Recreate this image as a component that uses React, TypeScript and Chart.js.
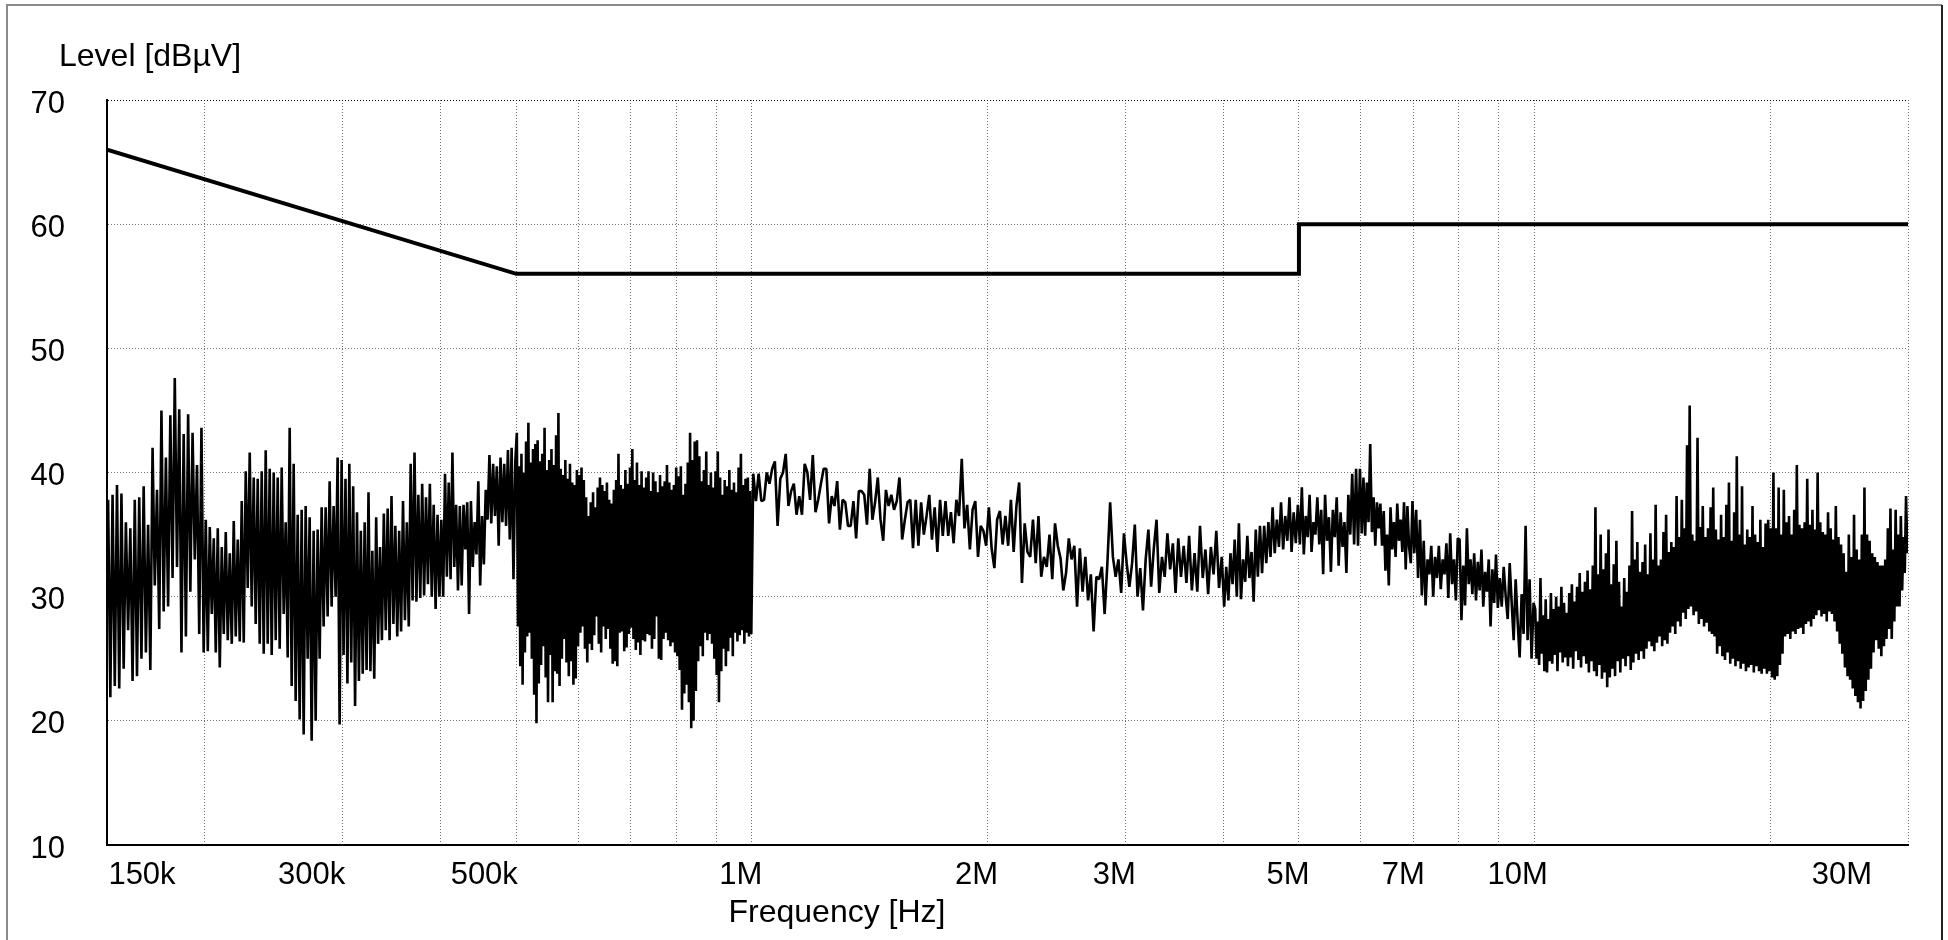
import React, { useEffect, useRef } from 'react';
import { Chart, registerables } from 'chart.js';

Chart.register(...registerables);

const FONT = '"Liberation Sans", Arial, Helvetica, sans-serif';

// ---- axis definitions ----
const X_MIN = 150e3;
const X_MAX = 30e6;
const X_GRID = [
  150e3, 200e3, 300e3, 400e3, 500e3, 600e3, 700e3, 800e3, 900e3,
  1e6, 2e6, 3e6, 4e6, 5e6, 6e6, 7e6, 8e6, 9e6, 10e6, 20e6, 30e6,
];
const X_TICK_VALUES = [150e3, 300e3, 500e3, 1e6, 2e6, 3e6, 5e6, 7e6, 10e6, 30e6];
const X_TICK_LABELS = ['150k', '300k', '500k', '1M', '2M', '3M', '5M', '7M', '10M', '30M'];
const X_LABEL_SHIFT = [35, -31, -32, -11, -11, -11, -11, -10, -17, -66];
const Y_TICKS = [10, 20, 30, 40, 50, 60, 70];

// ---- limit line ----
const LIMIT_FREQ = [150e3, 500e3, 5e6, 5e6, 30e6];
const LIMIT_LEVEL = [66, 56, 56, 60, 60];

// ---- measured level [dBµV], read per frequency band ----
const LEVEL_150K_200K = [
  37.8, 21.9, 38.2, 22.8, 39.0, 22.6, 38.3, 24.2, 36.0, 27.3, 35.5, 23.2, 37.8, 23.6, 38.0, 25.0,
  38.9, 25.5, 35.8, 24.1, 42.0, 30.9, 38.6, 27.4, 45.0, 28.8, 41.2, 29.2, 44.6, 31.5, 47.6, 32.4,
  45.1, 25.5, 43.1, 26.8, 44.7, 30.4, 43.2, 33.0, 40.6, 27.0, 43.6, 25.5,
];
const LEVEL_200K_300K = [
  36.2, 25.6, 35.6, 28.6, 34.7, 25.5, 35.5, 24.3, 34.0, 27.0, 35.2, 26.5, 33.5, 26.2, 36.1, 26.8,
  34.6, 26.4, 37.7, 26.3, 40.1, 30.7, 41.6, 29.2, 39.6, 27.8, 39.5, 26.2, 40.1, 25.4, 41.8, 26.2,
  40.3, 25.3, 40.0, 26.5, 39.6, 25.8, 40.4, 28.6, 36.0, 25.1, 43.6, 22.8, 40.7, 21.6, 36.6, 20.1,
  37.0, 18.9, 37.3, 25.0, 36.4, 18.4, 35.3, 20.0, 35.4, 25.0, 37.2, 27.6, 37.2, 28.4, 39.3, 29.2,
  37.3, 30.0, 41.2, 19.7, 41.0,
];
const LEVEL_300K_400K = [
  25.3, 39.5, 23.0, 40.7, 24.7, 38.9, 21.2, 36.8, 23.2, 35.3, 23.8, 36.0, 24.1, 38.4, 24.0, 33.7,
  23.4, 36.4, 26.2, 34.0, 26.5, 36.7, 27.3, 37.1, 26.5, 38.1, 27.8, 35.7, 26.8, 35.3, 27.2, 37.7,
  28.1, 36.0, 27.6, 40.7, 29.7, 41.6, 29.6, 38.2, 29.9, 39.1, 30.1, 38.0, 31.0, 39.1, 30.0, 37.4,
  29.0, 36.6, 30.0,
];
const LEVEL_400K_500K = [
  36.2, 30.0, 39.9, 31.6, 39.2, 31.4, 41.6, 32.4, 37.4, 30.5, 37.3, 30.9, 37.4, 33.8, 37.6, 28.6,
  37.7, 32.4, 36.0, 33.4, 39.3, 30.9, 36.5, 32.6, 38.6, 36.2, 41.4, 35.9, 40.7, 36.5, 40.5, 34.1,
  41.2, 36.0, 40.7, 35.7, 41.8, 34.6, 42.0, 31.4, 40.9,
];
const LEVEL_500K_1M = [
  43.2, 27.6, 40.5, 24.4, 41.5, 22.9, 40.0, 25.5, 42.5, 26.8, 44.0, 27.1, 40.8, 25.0, 41.9, 22.1,
  42.3, 19.8, 42.6, 23.0, 40.9, 24.5, 41.5, 26.0, 43.6, 23.5, 40.2, 21.5, 41.0, 25.3, 41.9, 21.5,
  40.6, 24.0, 43.0, 23.8, 44.8, 22.8, 40.3, 25.0, 39.8, 26.6, 41.0, 24.7, 39.5, 23.6, 40.7, 24.8,
  39.2, 22.9, 39.0, 23.4, 40.2, 26.0, 39.8, 27.1, 40.4, 27.6, 39.4, 25.8, 38.0, 24.7, 36.5, 26.2,
  37.6, 25.7, 38.4, 26.9, 37.2, 28.4, 38.8, 26.2, 39.6, 25.5, 39.0, 27.6, 38.5, 26.6, 39.2, 27.4,
  37.8, 25.8, 37.5, 24.6, 38.6, 24.8, 39.4, 24.4, 41.5, 27.1, 39.0, 27.2, 38.7, 25.6, 40.2, 25.9,
  39.1, 27.0, 40.4, 27.5, 41.9, 26.6, 39.4, 25.7, 40.8, 26.3, 39.0, 25.3, 40.1, 26.5, 38.8, 26.4,
  39.6, 27.0, 40.1, 26.9, 38.5, 25.8, 40.0, 26.6, 39.3, 28.4, 38.4, 25.0, 39.8, 24.9, 38.9, 26.6,
  39.3, 27.1, 40.6, 26.5, 39.2, 26.0, 38.6, 26.3, 39.0, 25.5, 40.4, 25.2, 39.7, 24.1, 40.5, 20.9,
  38.2, 22.2, 39.1, 22.9, 40.8, 21.5, 43.2, 19.4, 41.0, 20.0, 42.5, 22.4, 42.6, 24.8, 41.3, 26.0,
  39.3, 25.2, 40.2, 27.1, 41.7, 26.5, 39.0, 27.0, 40.0, 26.2, 38.8, 25.0, 40.1, 23.7, 41.7, 21.5,
  39.6, 24.0, 38.2, 25.8, 39.4, 24.4, 38.9, 25.6, 40.2, 26.7, 38.6, 25.2, 39.2, 27.1, 38.4, 26.4,
  40.4, 26.9, 41.5, 27.3, 39.0, 26.2, 39.5, 27.1, 39.6, 26.8, 38.5, 27.0,
];
const LEVEL_1M_2M = [
  39.9, 37.7, 39.9, 37.7, 37.8, 40.0, 39.1, 40.3, 40.9, 35.7, 39.5, 40.0, 41.5, 37.3, 38.5, 39.1,
  36.6, 38.1, 36.6, 40.7, 40.0, 37.8, 41.4, 36.8, 37.8, 39.1, 40.3, 40.3, 35.9, 38.1, 37.3, 39.3,
  35.4, 37.8, 37.6, 35.7, 35.7, 37.7, 34.7, 38.5, 38.5, 38.2, 35.8, 40.3, 36.2, 37.6, 39.6, 36.2,
  34.5, 38.6, 37.3, 38.2, 37.0, 37.7, 39.6, 34.6, 36.2, 37.6, 37.8, 33.9, 37.8, 34.1, 37.6, 35.0,
  36.5, 38.2, 34.6, 37.2, 33.6, 37.8, 34.9, 37.7, 34.9, 36.8, 34.3, 37.8, 36.5, 41.1, 35.5, 37.4,
  33.8, 37.0, 37.7, 33.2, 35.7, 35.3, 34.1,
];
const LEVEL_2M_3M = [
  37.2, 33.9, 32.3, 36.2, 36.9, 34.2, 36.5, 34.1, 37.8, 33.6, 37.3, 39.2, 31.1, 35.9, 33.6, 33.2,
  36.2, 32.7, 36.5, 31.6, 33.2, 32.4, 35.0, 31.4, 35.9, 34.1, 33.1, 30.5, 31.9, 34.7, 33.0, 34.1,
  29.2, 33.9, 30.4, 33.2, 29.7, 31.8, 27.2, 31.6, 31.4, 32.4, 28.6, 32.7, 37.6, 33.2, 31.6, 33.0,
  30.3, 35.1,
];
const LEVEL_3M_4M = [
  32.7, 30.8, 32.7, 35.8, 30.0, 32.3, 28.9, 33.0, 35.4, 30.8, 33.9, 36.2, 30.3, 33.2, 31.6, 35.1,
  32.2, 34.3, 30.3, 34.7, 31.6, 34.1, 31.1, 34.9, 30.5, 33.5, 30.4, 35.7, 31.5, 33.8, 30.2, 34.0,
  31.8, 35.3, 30.7, 33.2,
];
const LEVEL_4M_5M = [
  29.2, 32.4, 29.7, 33.5, 31.0, 34.6, 30.0, 35.9, 29.8, 33.0, 31.2, 34.9, 31.5, 33.6, 29.6, 35.4,
  31.6, 35.7, 31.9, 35.7, 32.7, 36.0, 33.2, 37.2, 33.5, 36.2, 34.0, 37.6, 33.8, 36.5, 34.5, 38.0,
  33.6, 36.8, 34.3, 37.4,
];
const LEVEL_5M_6M = [
  34.2, 38.8, 33.4, 36.5, 34.8, 38.2, 33.6, 36.0, 35.0, 38.0, 34.2, 37.0, 31.8, 38.2, 34.5, 36.4,
  32.0, 37.0, 34.8, 38.0, 32.5, 36.8, 34.0, 36.0, 31.9, 38.2, 35.0, 39.9, 34.2, 40.3, 34.1, 40.3,
];
const LEVEL_6M_7M = [
  35.1, 39.6, 34.9, 39.2, 36.0, 42.3, 35.2, 38.0, 34.1, 37.6, 35.5, 37.5, 34.1, 36.9, 32.1, 35.0,
  30.9, 37.2, 33.8, 36.0, 33.2, 37.5, 34.5, 36.2, 33.6, 37.6, 32.2, 37.3, 34.0, 32.7, 37.7,
];
const LEVEL_7M_8M = [
  33.5, 37.0, 31.5, 36.2, 30.1, 34.5, 29.3, 33.0, 31.8, 34.1, 30.0, 33.2, 31.5, 34.1, 30.6, 33.0,
  31.8, 34.3, 29.9, 35.1, 31.0, 33.0, 29.7, 34.7,
];
const LEVEL_8M_9M = [
  34.6, 28.1, 32.5, 29.3, 35.5, 31.0, 33.0, 30.2, 33.5, 29.7, 32.8, 30.5, 33.8, 29.2, 32.0, 30.4,
  33.0, 27.6, 32.2, 29.5, 33.4, 29.1,
];
const LEVEL_9M_10M = [
  31.5, 29.2, 32.4, 30.0, 28.2, 32.7, 29.5, 26.5, 31.4, 28.0, 25.1, 30.2, 27.0, 35.7, 26.5, 31.4,
  25.0, 29.5,
];
const LEVEL_10M_20M = [
  29.0, 25.0, 28.0, 24.5, 31.5, 25.4, 28.5, 24.0, 29.8, 23.9, 28.2, 24.8, 30.3, 24.6, 29.0, 25.3,
  30.0, 24.0, 29.2, 25.5, 30.8, 24.7, 29.5, 25.1, 28.7, 24.4, 30.3, 25.1, 31.0, 24.2, 29.6, 25.6,
  30.8, 24.9, 31.9, 24.3, 30.4, 25.2, 31.2, 24.6, 32.1, 23.9, 30.6, 24.8, 32.5, 24.0, 37.2, 23.6,
  31.8, 24.5, 35.0, 23.4, 32.2, 23.9, 33.5, 22.7, 35.4, 23.5, 31.0, 24.2, 32.6, 23.6, 34.5, 24.8,
  31.2, 23.9, 29.2, 25.0, 31.5, 24.4, 30.4, 25.2, 32.5, 24.1, 36.9, 24.7, 33.0, 25.4, 34.4, 24.9,
  32.0, 25.6, 32.8, 25.0, 34.2, 25.8, 31.8, 26.4, 35.1, 26.0, 33.0, 25.6, 37.4, 26.3, 32.5, 26.8,
  33.0, 26.0, 35.2, 26.5, 36.6, 26.2, 33.6, 27.1, 34.4, 27.6, 34.0, 27.0, 38.1, 28.0, 34.8, 27.6,
  37.8, 28.7, 35.5, 28.2, 42.2, 29.0, 45.4, 29.2, 35.0, 28.5, 34.5, 28.8, 42.8, 27.8, 35.6, 28.2,
  37.3, 27.6, 34.8, 27.9, 35.5, 27.2, 37.2, 27.0, 38.8, 26.8, 35.4, 25.4, 34.6, 26.0, 36.6, 25.2,
  34.8, 24.9, 37.4, 25.5, 39.2, 24.6, 34.5, 25.0, 36.8, 24.4, 41.3, 24.8, 35.0, 24.2, 38.9, 24.6,
  34.2, 24.0, 35.4, 24.3, 34.8, 24.5, 37.3, 23.9, 35.0, 24.4, 34.4, 24.0, 36.2, 23.8, 34.0, 24.2,
  35.9, 23.8, 36.2, 24.0,
];
const LEVEL_20M_30M = [
  35.5, 23.5, 40.0, 23.3, 35.5, 23.6, 38.8, 24.5, 35.0, 25.4, 38.6, 26.8, 36.0, 27.0, 36.5, 26.6,
  35.0, 27.2, 37.0, 27.0, 40.6, 27.4, 35.8, 27.5, 35.5, 27.0, 36.0, 27.8, 39.5, 28.0, 35.8, 27.6,
  37.0, 28.2, 35.4, 28.5, 40.0, 28.9, 36.0, 28.4, 35.2, 28.6, 35.0, 28.0, 36.8, 28.8, 35.5, 28.6,
  34.6, 28.0, 37.3, 27.2, 34.8, 26.2, 34.2, 25.4, 33.5, 24.3, 32.0, 23.6, 35.0, 23.3, 33.2, 22.6,
  36.6, 22.0, 33.8, 21.5, 33.0, 21.0, 35.0, 21.6, 38.8, 22.4, 35.0, 23.3, 34.5, 24.2, 33.5, 25.5,
  33.2, 26.5, 32.8, 25.8, 32.5, 25.2, 32.5, 26.0, 33.0, 26.6, 35.5, 27.4, 37.1, 26.6, 33.8, 28.0,
  37.0, 29.2, 35.0, 29.2, 36.5, 30.5, 34.8, 31.9, 38.1, 33.5,
];

// band table: [start Hz, stop Hz, values]
const BANDS: [number, number, number[]][] = [
  [150e3, 200e3, LEVEL_150K_200K],
  [200e3, 300e3, LEVEL_200K_300K],
  [300e3, 400e3, LEVEL_300K_400K],
  [400e3, 500e3, LEVEL_400K_500K],
  [500e3, 1e6, LEVEL_500K_1M],
  [1e6, 2e6, LEVEL_1M_2M],
  [2e6, 3e6, LEVEL_2M_3M],
  [3e6, 4e6, LEVEL_3M_4M],
  [4e6, 5e6, LEVEL_4M_5M],
  [5e6, 6e6, LEVEL_5M_6M],
  [6e6, 7e6, LEVEL_6M_7M],
  [7e6, 8e6, LEVEL_7M_8M],
  [8e6, 9e6, LEVEL_8M_9M],
  [9e6, 10e6, LEVEL_9M_10M],
  [10e6, 20e6, LEVEL_10M_20M],
  [20e6, 30e6, LEVEL_20M_30M],
];

function buildLevelPoints() {
  const pts: { x: number; y: number }[] = [];
  for (const [f0, f1, vals] of BANDS) {
    const n = vals.length;
    vals.forEach((v, i) => {
      pts.push({ x: f0 * Math.pow(f1 / f0, (i + 0.5) / n), y: v });
    });
  }
  return pts;
}

const framePlugin = {
  id: 'frameAndTexts',
  beforeDraw(chart: any) {
    const ctx = chart.ctx;
    ctx.save();
    ctx.fillStyle = '#ffffff';
    ctx.fillRect(0, 0, chart.width, chart.height);
    ctx.lineWidth = 2;
    ctx.strokeStyle = '#8a8a8a';
    ctx.beginPath();
    ctx.moveTo(7, 945);
    ctx.lineTo(7, 5);
    ctx.lineTo(1942, 5);
    ctx.stroke();
    ctx.strokeStyle = '#222222';
    ctx.beginPath();
    ctx.moveTo(1942, 5);
    ctx.lineTo(1942, 945);
    ctx.stroke();
    ctx.restore();
  },
  afterDraw(chart: any) {
    const ctx = chart.ctx;
    const xs = chart.scales.x;
    ctx.save();
    ctx.fillStyle = '#000';
    ctx.font = `31px ${FONT}`;
    ctx.textBaseline = 'alphabetic';
    ctx.textAlign = 'center';
    X_TICK_VALUES.forEach((v, i) => {
      ctx.fillText(X_TICK_LABELS[i], xs.getPixelForValue(v) + X_LABEL_SHIFT[i], 884);
    });
    ctx.font = `32px ${FONT}`;
    ctx.fillText('Frequency [Hz]', 837, 922);
    ctx.textAlign = 'left';
    ctx.fillText('Level [dBµV]', 59, 66);
    ctx.restore();
  },
};

export default function App() {
  const ref = useRef<HTMLCanvasElement>(null);

  useEffect(() => {
    if (!ref.current) return;
    Chart.defaults.font.family = FONT;
    const limitPts = LIMIT_FREQ.map((f, i) => ({ x: f, y: LIMIT_LEVEL[i] }));
    const levelPts = buildLevelPoints();

    const chart = new Chart(ref.current, {
      type: 'line',
      data: {
        datasets: [
          {
            label: 'Level',
            data: levelPts,
            borderColor: '#000',
            borderWidth: 2.6,
            borderJoinStyle: 'bevel',
            pointRadius: 0,
            tension: 0,
            fill: false,
          },
          {
            label: 'Limit',
            data: limitPts,
            borderColor: '#000',
            borderWidth: 4,
            pointRadius: 0,
            tension: 0,
            fill: false,
          },
        ],
      },
      options: {
        responsive: false,
        animation: false,
        devicePixelRatio: 1,
        events: [],
        layout: { padding: { left: 0, top: 100, right: 40, bottom: 0 } },
        plugins: {
          legend: { display: false },
          tooltip: { enabled: false },
          title: { display: false },
        },
        scales: {
          x: {
            type: 'logarithmic',
            position: 'bottom',
            min: X_MIN,
            max: X_MAX,
            afterBuildTicks: (s: any) => {
              s.ticks = X_GRID.map((v) => ({ value: v }));
            },
            afterFit: (s: any) => {
              s.height = 95;
            },
            ticks: { display: false },
            grid: { color: '#707070', lineWidth: 1, drawTicks: false },
            border: { display: true, color: '#000', width: 2, dash: [1, 2] },
          },
          y: {
            type: 'linear',
            position: 'left',
            min: 10,
            max: 70,
            afterBuildTicks: (s: any) => {
              s.ticks = Y_TICKS.map((v) => ({ value: v }));
            },
            afterFit: (s: any) => {
              s.width = 107;
            },
            ticks: {
              color: '#000',
              font: { family: FONT, size: 31 },
              padding: 42,
              labelOffset: 4,
              callback: (v: any) => String(v),
            },
            grid: {
              color: (c: any) => (c.tick && c.tick.value === 70 ? '#000' : '#707070'),
              lineWidth: 1,
              drawTicks: false,
            },
            border: { display: true, color: '#000', width: 2, dash: [1, 2] },
          },
        },
      },
      plugins: [framePlugin],
    } as any);

    return () => chart.destroy();
  }, []);

  return (
    <div style={{ position: 'absolute', left: 0, top: 0, width: 1948, height: 940, background: '#fff' }}>
      <canvas ref={ref} width={1948} height={940} style={{ display: 'block', width: 1948, height: 940 }} />
    </div>
  );
}
